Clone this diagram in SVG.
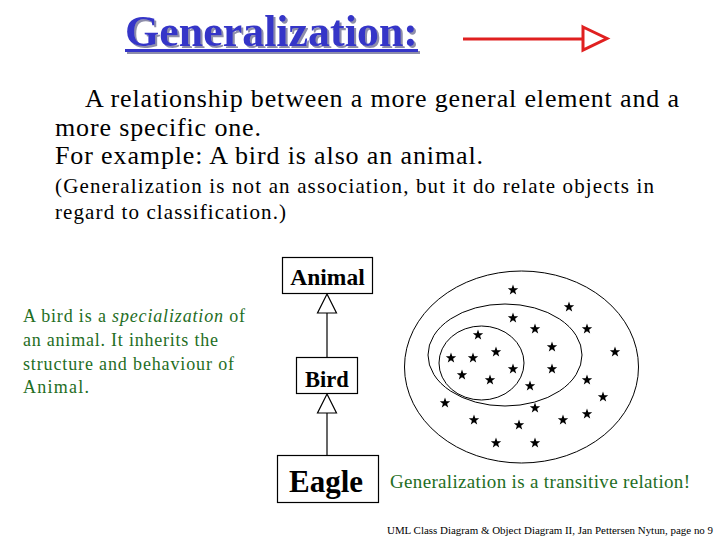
<svg xmlns="http://www.w3.org/2000/svg" width="720" height="540" viewBox="0 0 720 540">
<style>
text{font-family:"Liberation Serif","Times New Roman",serif}
.box{fill:#fff;stroke:#000;stroke-width:1.2}
.lbl{font-weight:bold;fill:#000;text-anchor:middle}
.blk{fill:#000}
.green{fill:#1f6e1f}
.conn{stroke:#000;stroke-width:1.2;fill:none}
.tri{fill:#fff;stroke:#000;stroke-width:1.2}
.ell{fill:none;stroke:#000;stroke-width:1}
</style>
<defs>
<filter id="shadow" x="-5%" y="-20%" width="115%" height="150%">
<feFlood flood-color="#8e8eaa" result="c"/>
<feComposite in="c" in2="SourceAlpha" operator="in" result="s"/>
<feOffset in="s" dx="2" dy="2" result="o"/>
<feMerge><feMergeNode in="o"/><feMergeNode in="SourceGraphic"/></feMerge>
</filter>
<path id="star" d="M0,-5.5 L1.3,-1.8 L5.2,-1.7 L2.1,0.7 L3.2,4.4 L0,2.2 L-3.2,4.4 L-2.1,0.7 L-5.2,-1.7 L-1.3,-1.8 Z" fill="#000"/>
</defs>
<rect width="720" height="540" fill="#fff"/>
<g id="title" filter="url(#shadow)">
<text x="125" y="46" font-size="44" font-weight="bold" fill="#3535c8" textLength="293" lengthAdjust="spacingAndGlyphs">Generalization:</text>
<rect x="125" y="49" width="293" height="3" fill="#3535c8"/>
</g>
<g id="legend-arrow">
<line x1="463" y1="39" x2="583" y2="39" stroke="#e02020" stroke-width="3"/>
<polygon points="583,27 607,38.5 583,50" fill="#fff" stroke="#e02020" stroke-width="3" stroke-linejoin="miter"/>
</g>
<g id="description">
<text x="85" y="107" class="blk" font-size="26" textLength="594" lengthAdjust="spacing">A relationship between a more general element and a</text>
<text x="55" y="136" class="blk" font-size="26" textLength="206" lengthAdjust="spacing">more specific one.</text>
<text x="55" y="164" class="blk" font-size="26" textLength="428" lengthAdjust="spacing">For example: A bird is also an animal.</text>
<text x="55" y="193" class="blk" font-size="21" textLength="599" lengthAdjust="spacing">(Generalization is not an association, but it do relate objects in</text>
<text x="55" y="219" class="blk" font-size="21" textLength="231" lengthAdjust="spacing">regard to classification.)</text>
</g>
<g id="note">
<text x="23" y="322" class="green" font-size="18" textLength="222" lengthAdjust="spacing">A bird is a <tspan font-style="italic">specialization</tspan> of</text>
<text x="23" y="346" class="green" font-size="18" textLength="195" lengthAdjust="spacing">an animal. It inherits the</text>
<text x="23" y="370" class="green" font-size="18" textLength="211" lengthAdjust="spacing">structure and behaviour of</text>
<text x="23" y="393" class="green" font-size="18" textLength="66" lengthAdjust="spacing">Animal.</text>
</g>
<g id="connectors">
<line class="conn" x1="327" y1="313" x2="327" y2="357"/>
<polygon class="tri" points="327,294 336.5,313 317.5,313"/>
<line class="conn" x1="327" y1="413" x2="327" y2="455"/>
<polygon class="tri" points="327,394 336.5,413 317.5,413"/>
</g>
<g id="animal">
<rect class="box" x="282.5" y="257.5" width="90" height="36"/>
<text x="327.5" y="285" class="lbl" font-size="23.5">Animal</text>
</g>
<g id="bird">
<rect class="box" x="296.5" y="357.5" width="61" height="36"/>
<text x="327" y="387" class="lbl" font-size="22.5">Bird</text>
</g>
<g id="eagle">
<rect class="box" x="277.5" y="455.5" width="101" height="47"/>
<text x="326" y="492" class="lbl" font-size="31">Eagle</text>
</g>
<g id="sets">
<ellipse class="ell" cx="521.5" cy="367" rx="117" ry="96"/>
<ellipse class="ell" cx="505" cy="355" rx="77" ry="51"/>
<ellipse class="ell" cx="481.5" cy="363" rx="42.5" ry="37"/>
<use href="#star" x="513" y="290"/>
<use href="#star" x="569" y="307"/>
<use href="#star" x="513" y="318"/>
<use href="#star" x="535" y="329"/>
<use href="#star" x="587" y="329"/>
<use href="#star" x="478" y="335"/>
<use href="#star" x="552" y="347"/>
<use href="#star" x="496" y="352"/>
<use href="#star" x="615" y="352"/>
<use href="#star" x="451" y="358"/>
<use href="#star" x="473" y="358"/>
<use href="#star" x="513" y="369"/>
<use href="#star" x="552" y="369"/>
<use href="#star" x="462" y="375"/>
<use href="#star" x="490" y="380"/>
<use href="#star" x="587" y="380"/>
<use href="#star" x="530" y="386"/>
<use href="#star" x="603" y="397"/>
<use href="#star" x="445" y="403"/>
<use href="#star" x="535" y="408"/>
<use href="#star" x="587" y="414"/>
<use href="#star" x="474" y="420"/>
<use href="#star" x="563" y="420"/>
<use href="#star" x="519" y="425"/>
<use href="#star" x="496" y="443"/>
<use href="#star" x="535" y="443"/>
</g>
<g id="transitive">
<text x="390" y="488" class="green" font-size="19" textLength="300" lengthAdjust="spacing">Generalization is a transitive relation!</text>
</g>
<g id="footer">
<text x="387" y="534" class="blk" font-size="11" textLength="326" lengthAdjust="spacingAndGlyphs">UML Class Diagram &amp; Object Diagram II, Jan Pettersen Nytun, page no 9</text>
</g>
</svg>
